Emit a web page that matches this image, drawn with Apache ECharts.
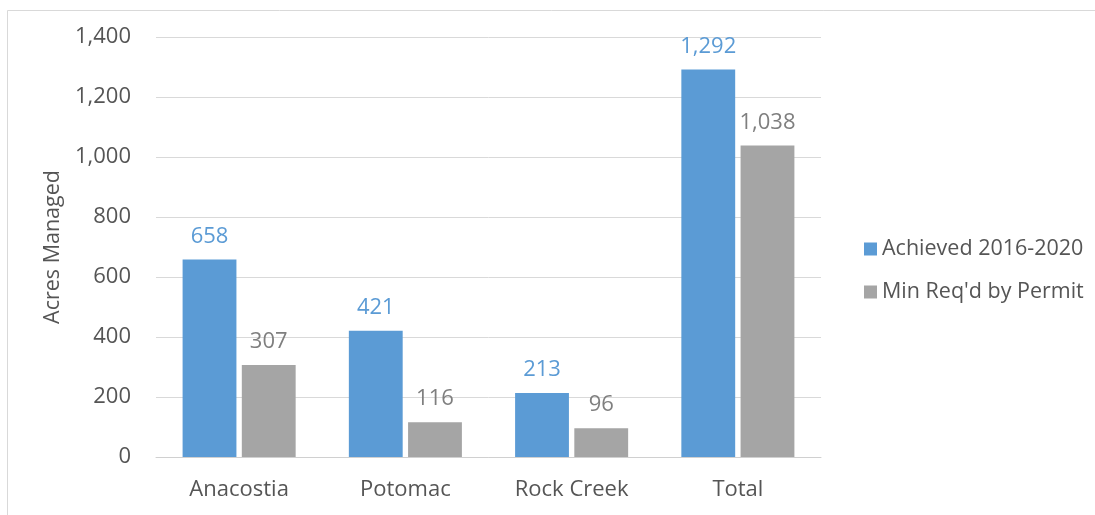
<!DOCTYPE html>
<html>
<head>
<meta charset="utf-8">
<script src="https://cdn.jsdelivr.net/npm/echarts@6/dist/echarts.min.js"></script>
<style>html,body{margin:0;padding:0;background:#fff}#c{width:1095px;height:515px}</style>
</head>
<body>
<div id="c"></div>
<script>
const categories = ['Anacostia', 'Potomac', 'Rock Creek', 'Total'];
const achieved = [658, 421, 213, 1292];
const minReq = [307, 116, 96, 1038];
const seriesNames = ['Achieved 2016-2020', "Min Req'd by Permit"];
const yTicks = { min: 0, max: 1400, interval: 200 };

const FONT = '"Open Sans", sans-serif';
const fmt = v => String(v).replace(/\B(?=(\d{3})+(?!\d))/g, ',');

const chart = echarts.init(document.getElementById('c'), null, { renderer: 'canvas' });
chart.setOption({
  animation: false,
  backgroundColor: '#fff',
  textStyle: { fontFamily: FONT },
  graphic: [{
    type: 'rect', silent: true,
    shape: { x: 7.5, y: 10.5, width: 1200, height: 600 },
    style: { fill: 'none', stroke: '#d9d9d9', lineWidth: 1 }
  }],
  grid: { left: 156, right: 274, top: 37, bottom: 58, containLabel: false },
  legend: {
    orient: 'vertical', left: 859, top: 233,
    icon: 'rect', itemWidth: 13, itemHeight: 13, itemGap: 21,
    textStyle: { fontFamily: FONT, fontSize: 21.5, color: '#555555', lineHeight: 22 },
    data: seriesNames
  },
  xAxis: {
    type: 'category', data: categories,
    axisLine: { lineStyle: { color: '#d0d0d0', width: 1 } },
    axisTick: { show: false },
    axisLabel: { fontFamily: FONT, fontSize: 22, color: '#555555', margin: 22 }
  },
  yAxis: {
    type: 'value', min: yTicks.min, max: yTicks.max, interval: yTicks.interval,
    name: 'Acres Managed', nameLocation: 'middle', nameGap: 90,
    nameTextStyle: { fontFamily: FONT, fontSize: 21.5, color: '#555555' },
    axisLine: { show: false }, axisTick: { show: false },
    axisLabel: { fontFamily: FONT, fontSize: 22, color: '#555555', margin: 25, formatter: fmt },
    splitLine: { lineStyle: { color: '#d9d9d9', width: 1 } }
  },
  series: [
    {
      name: seriesNames[0], type: 'bar', data: achieved,
      barGap: '10%', barCategoryGap: '32%',
      itemStyle: { color: '#5B9BD5' },
      label: { show: true, position: 'top', distance: 12, fontFamily: FONT, fontSize: 22, color: '#5B9BD5', formatter: p => fmt(p.value) }
    },
    {
      name: seriesNames[1], type: 'bar', data: minReq,
      barGap: '10%', barCategoryGap: '32%',
      itemStyle: { color: '#A5A5A5' },
      label: { show: true, position: 'top', distance: 12, fontFamily: FONT, fontSize: 22, color: '#7f7f7f', formatter: p => fmt(p.value) }
    }
  ]
});
</script>
</body>
</html>
